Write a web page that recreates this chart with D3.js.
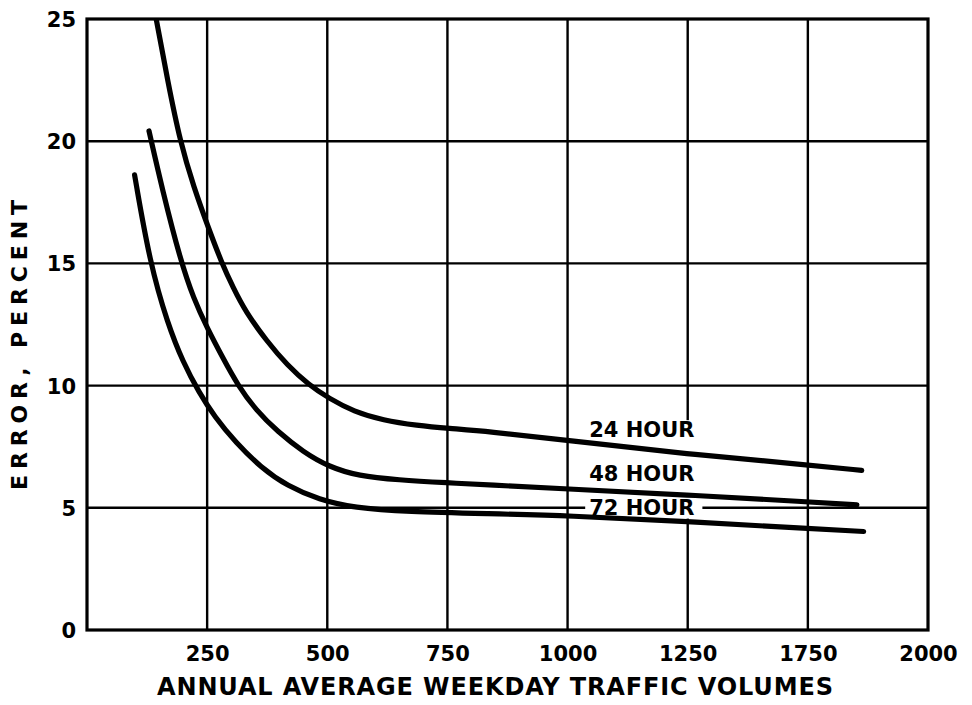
<!DOCTYPE html>
<html><head><meta charset="utf-8">
<script src="https://cdn.jsdelivr.net/npm/d3@7"></script>
<style>html,body{margin:0;padding:0;background:#fff}svg{display:block}</style>
</head><body>
<svg id="chart" width="972" height="705"></svg>
<script>
// ---- data ----
const xBreaks = [0, 250, 500, 750, 1000, 1250, 1750, 2000];   // printed axis (1500 is not printed)
const xTickValues = [250, 500, 750, 1000, 1250, 1750, 2000];
const xTickLabels = ["250", "500", "750", "1000", "1250", "1750", "2000"];
const yTickValues = [0, 5, 10, 15, 20, 25];
const yGridValues = [5, 10, 15, 20];

const hour24X = [144, 168, 194, 222, 254, 280, 304, 330, 374, 417, 461, 504, 555, 616, 687, 752, 832, 1000, 1246, 1754, 1862];
const hour24Y = [25, 22.46, 19.96, 18.13, 16.38, 15.04, 14.01, 13.02, 11.82, 10.83, 10.04, 9.47, 8.94, 8.58, 8.37, 8.25, 8.13, 7.76, 7.2, 6.75, 6.53];

const hour48X = [129, 157, 194, 222, 250, 283, 313, 352, 396, 450, 504, 565, 646, 752, 832, 1000, 1246, 1754, 1852];
const hour48Y = [20.42, 18.0, 15.16, 13.55, 12.36, 11.12, 10.04, 8.98, 8.13, 7.28, 6.67, 6.30, 6.14, 6.02, 5.94, 5.77, 5.53, 5.24, 5.12];

const hour72X = [99, 131, 168, 200, 233, 265, 309, 363, 417, 483, 555, 667, 832, 1000, 1246, 1754, 1866];
const hour72Y = [18.62, 15, 12.52, 10.95, 9.72, 8.74, 7.68, 6.63, 5.89, 5.33, 5.0, 4.84, 4.76, 4.68, 4.44, 4.15, 4.03];

const seriesNames = ["24 HOUR", "48 HOUR", "72 HOUR"];
const labelX = [1045, 1045, 1045];
const labelY = [8.2, 6.4, 5.0];

const xTitle = "ANNUAL AVERAGE WEEKDAY TRAFFIC VOLUMES";
const yTitle = "ERROR, PERCENT";

// ---- layout ----
const W = 972, H = 705;
const mLeft = 87, mRight = 928, mTop = 19, mBottom = 630;
const svg = d3.select("#chart");
svg.append("rect").attr("width", W).attr("height", H).attr("fill", "#fff");

const x = d3.scaleLinear()
  .domain(xBreaks)
  .range(xBreaks.map((d, i) => mLeft + i * (mRight - mLeft) / (xBreaks.length - 1)));
const y = d3.scaleLinear().domain([0, 25]).range([mBottom, mTop]);

const font = "'DejaVu Sans', Verdana, sans-serif";

// grid
const grid = svg.append("g").attr("stroke", "#000").attr("stroke-width", 2.4);
grid.selectAll("line.h").data(yGridValues).join("line").attr("class", "h")
  .attr("x1", mLeft).attr("x2", mRight)
  .attr("y1", d => y(d)).attr("y2", d => y(d));
grid.selectAll("line.v").data(xTickValues.filter(d => d < 2000)).join("line").attr("class", "v")
  .attr("x1", d => x(d)).attr("x2", d => x(d))
  .attr("y1", mTop).attr("y2", mBottom);

// frame
svg.append("rect").attr("x", mLeft).attr("y", mTop)
  .attr("width", mRight - mLeft).attr("height", mBottom - mTop)
  .attr("fill", "none").attr("stroke", "#000").attr("stroke-width", 3.2);

// axes (labels only; lines are the grid/frame)
const xAxis = d3.axisBottom(x).tickValues(xTickValues)
  .tickFormat((d, i) => xTickLabels[i]).tickSize(0).tickPadding(16);
const gx = svg.append("g").attr("transform", `translate(0,${mBottom})`).call(xAxis);
gx.select(".domain").remove();
gx.selectAll("text").attr("font-family", font).attr("font-weight", "bold")
  .attr("font-size", 21).attr("fill", "#000");

const yAxis = d3.axisLeft(y).tickValues(yTickValues).tickFormat(d3.format("d"))
  .tickSize(0).tickPadding(11);
const gy = svg.append("g").attr("transform", `translate(${mLeft},0)`).call(yAxis);
gy.select(".domain").remove();
gy.selectAll("text").attr("font-family", font).attr("font-weight", "bold")
  .attr("font-size", 21).attr("fill", "#000").attr("dy", "0.36em");

// series labels with white backing (gridlines are broken behind them)
const labG = svg.append("g");
const labelNodes = seriesNames.map((name, i) => labG.append("text")
  .attr("x", x(labelX[i])).attr("y", y(labelY[i])).attr("dy", "0.36em")
  .attr("font-family", font).attr("font-weight", "bold").attr("font-size", 21)
  .attr("fill", "#000").text(name));
const boxes = labelNodes.map(n => n.node().getBBox());
boxes.forEach(b => {
  labG.insert("rect", "text").attr("x", b.x - 4).attr("y", b.y + 2)
    .attr("width", b.width + 12).attr("height", b.height - 4).attr("fill", "#fff");
});
// gap in the 1250 gridline spanning the label column
const gapTop = d3.min(boxes, b => b.y + 3), gapBot = d3.max(boxes, b => b.y + b.height - 2);
labG.insert("rect", "rect").attr("x", x(1250) - 3).attr("y", gapTop)
  .attr("width", 6).attr("height", gapBot - gapTop).attr("fill", "#fff");

// curves
svg.append("clipPath").attr("id", "clip").append("rect")
  .attr("x", mLeft).attr("y", mTop).attr("width", mRight - mLeft).attr("height", mBottom - mTop);
const line = d3.line().x(d => x(d[0])).y(d => y(d[1])).curve(d3.curveBasis);
const series = [
  d3.zip(hour24X, hour24Y),
  d3.zip(hour48X, hour48Y),
  d3.zip(hour72X, hour72Y)
];
svg.append("g").attr("clip-path", "url(#clip)")
  .selectAll("path").data(series).join("path")
  .attr("d", line).attr("fill", "none").attr("stroke", "#000")
  .attr("stroke-width", 5.2).attr("stroke-linecap", "round").attr("stroke-linejoin", "round");

// titles
svg.append("text").attr("x", 157).attr("y", 695)
  .attr("font-family", font).attr("font-weight", "bold").attr("font-size", 24)
  .attr("textLength", 676).attr("lengthAdjust", "spacing")
  .attr("fill", "#000").text(xTitle);
svg.append("text").attr("transform", "translate(27,490) rotate(-90)")
  .attr("font-family", font).attr("font-weight", "bold").attr("font-size", 22)
  .attr("textLength", 290).attr("lengthAdjust", "spacing")
  .attr("fill", "#000").text(yTitle);
</script>
</body></html>
